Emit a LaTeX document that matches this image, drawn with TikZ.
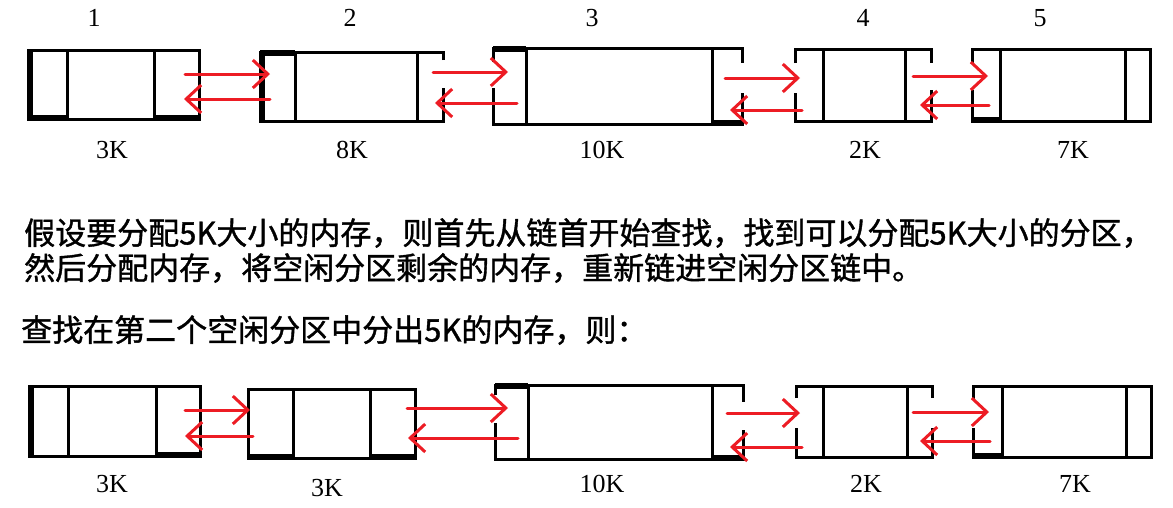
\documentclass[tikz,border=0pt]{standalone}
\usepackage{fontspec}
\setmainfont{Liberation Serif}
\newfontfamily\cjk[FakeBold=1.2]{Noto Sans CJK SC}
\usetikzlibrary{arrows.meta}
\definecolor{pred}{RGB}{237,28,36}
\begin{document}
\begin{tikzpicture}[x=1pt,y=-1pt,
  box/.style={line width=3pt, black, line join=miter},
  thk/.style={line width=5.5pt, black},
  link/.style={pred, line width=3pt, line cap=round, -{Straight Barb[length=15pt,width=28pt,line width=3pt]}},
  num/.style={font=\fontsize{26}{26}\selectfont, inner sep=0pt},
  txt/.style={font=\cjk\fontsize{31}{31}\selectfont, anchor=west, inner sep=0pt}]
\fill[white] (0,0) rectangle (1173,507);
\useasboundingbox (0,0) rectangle (1173,507);

% ---------- top row ----------
% box 1
\draw[box] (28,50) rectangle (199,119);
\draw[box] (67,50) -- (67,119) (154,50) -- (154,119);
\draw[thk] (30,50) -- (30,119) (28,118) -- (67,118) (154,118) -- (199,118);
% box 2
\draw[box] (443,60) -- (443,52) -- (260,52) -- (260,121) -- (443,121) -- (443,88);
\draw[box] (295,52) -- (295,121) (417,52) -- (417,121);
\draw[thk] (262,52) -- (262,121) (260,53) -- (295,53);
% box 3
\draw[box] (493,62) -- (493,48) -- (742,48) -- (742,63);
\draw[box] (742,93) -- (742,124) -- (493,124) -- (493,88);
\draw[box] (526,48) -- (526,124) (712,48) -- (712,124);
\draw[thk] (493,49) -- (526,49) (712,123) -- (742,123);
% box 4
\draw[box] (795,63) -- (795,49) -- (931,49) -- (931,63);
\draw[box] (931,90) -- (931,121) -- (795,121) -- (795,93);
\draw[box] (823,49) -- (823,121) (905,49) -- (905,121);
% box 5
\draw[box] (972,63) -- (972,49) -- (1150,49) -- (1150,121) -- (972,121) -- (972,90);
\draw[box] (1000,49) -- (1000,121) (1125,49) -- (1125,121);
\draw[thk] (972,120) -- (1000,120);

% top labels
\node[num] (t1) at (94,18) {1};
\node[num] (t2) at (350,18) {2};
\node[num] (t3) at (592,18) {3};
\node[num] (t4) at (863,18) {4};
\node[num] (t5) at (1040,18) {5};
\node[num] (s1) at (112,150) {3K};
\node[num] (s2) at (352,150) {8K};
\node[num] (s3) at (602,150) {10K};
\node[num] (s4) at (865,150) {2K};
\node[num] (s5) at (1073,150) {7K};

% top arrows
\coordinate (a1s) at (185,74);  \coordinate (a1e) at (270,74);
\coordinate (b1s) at (270,99);  \coordinate (b1e) at (184,99);
\coordinate (a2s) at (433,72);  \coordinate (a2e) at (508,72);
\coordinate (b2s) at (517,103); \coordinate (b2e) at (435,103);
\coordinate (a3s) at (725,78);  \coordinate (a3e) at (800,78);
\coordinate (b3s) at (802,110); \coordinate (b3e) at (730,110);
\coordinate (a4s) at (913,76);  \coordinate (a4e) at (988,76);
\coordinate (b4s) at (989,105); \coordinate (b4e) at (920,105);
\foreach \p in {1,2,3,4}{
  \draw[link] (a\p s) -- (a\p e);
  \draw[link] (b\p s) -- (b\p e);
}

% ---------- text ----------
\node[txt] (l1) at (24,233) {假设要分配5K大小的内存，则首先从链首开始查找，找到可以分配5K大小的分区，};
\node[txt] (l2) at (24,268) {然后分配内存，将空闲分区剩余的内存，重新链进空闲分区链中。};
\node[txt] (l3) at (21,330) {查找在第二个空闲分区中分出5K的内存，则：};

% ---------- bottom row ----------
% box 1
\draw[box] (29,386) rectangle (200,456);
\draw[box] (68,386) -- (68,456) (156,386) -- (156,456);
\draw[thk] (31,386) -- (31,456) (156,455) -- (200,455);
% box 2 (3K)
\draw[box] (248,389) rectangle (415,458);
\draw[box] (293,389) -- (293,458) (370,389) -- (370,458);
\draw[thk] (248,457) -- (293,457) (370,457) -- (415,457);
% box 3
\draw[box] (495,395) -- (495,385) -- (743,385) -- (743,402);
\draw[box] (743,430) -- (743,459) -- (495,459) -- (495,423);
\draw[box] (528,385) -- (528,459) (712,385) -- (712,459);
\draw[thk] (495,386) -- (528,386) (712,458) -- (743,458);
% box 4
\draw[box] (796,398) -- (796,386) -- (932,386) -- (932,398);
\draw[box] (932,428) -- (932,457) -- (796,457) -- (796,428);
\draw[box] (823,386) -- (823,457) (907,386) -- (907,457);
% box 5
\draw[box] (973,400) -- (973,386) -- (1151,386) -- (1151,457) -- (973,457) -- (973,428);
\draw[box] (1002,386) -- (1002,457) (1126,386) -- (1126,457);
\draw[thk] (973,456) -- (1002,456);

% bottom labels
\node[num] (u1) at (112,484) {3K};
\node[num] (u2) at (327,488) {3K};
\node[num] (u3) at (602,484) {10K};
\node[num] (u4) at (866,484) {2K};
\node[num] (u5) at (1075,484) {7K};

% bottom arrows
\coordinate (c1s) at (185,410);  \coordinate (c1e) at (250,410);
\coordinate (d1s) at (253,436);  \coordinate (d1e) at (185,436);
\coordinate (c2s) at (407,408);  \coordinate (c2e) at (508,408);
\coordinate (d2s) at (518,438);  \coordinate (d2e) at (408,438);
\coordinate (c3s) at (727,413);  \coordinate (c3e) at (800,413);
\coordinate (d3s) at (802,447);  \coordinate (d3e) at (730,447);
\coordinate (c4s) at (913,412);  \coordinate (c4e) at (989,412);
\coordinate (d4s) at (990,441);  \coordinate (d4e) at (920,441);
\foreach \p in {1,2,3,4}{
  \draw[link] (c\p s) -- (c\p e);
  \draw[link] (d\p s) -- (d\p e);
}
\end{tikzpicture}
\end{document}
